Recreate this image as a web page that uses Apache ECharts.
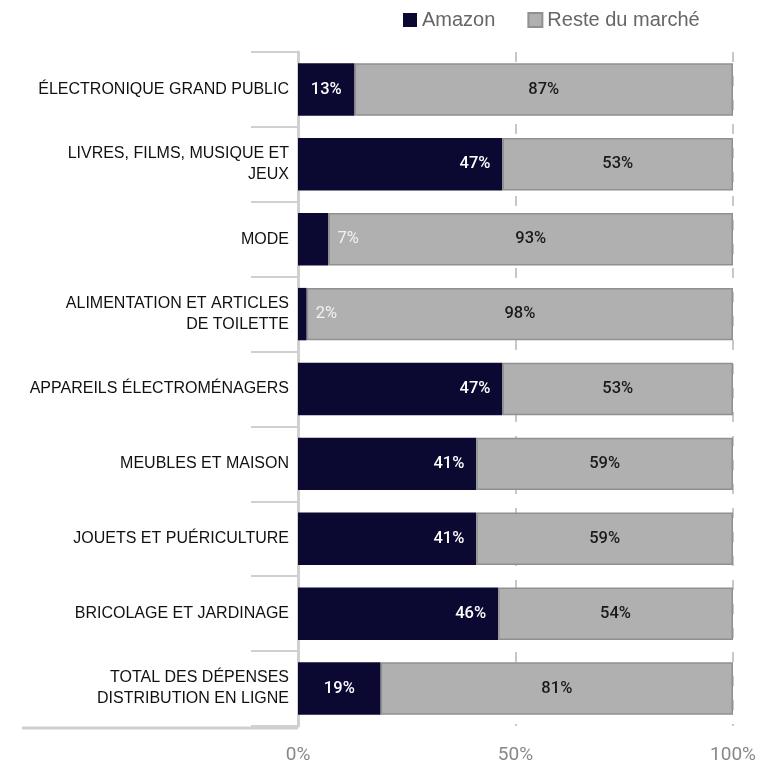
<!DOCTYPE html>
<html>
<head>
<meta charset="utf-8">
<script src="https://cdn.jsdelivr.net/npm/echarts@6/dist/echarts.min.js"></script>
<style>
  html, body { margin: 0; padding: 0; background: #fff; }
  #chart { width: 784px; height: 765px; }
</style>
</head>
<body>
<div id="chart"></div>
<script>
// catégories (de haut en bas)
var categories = [
  'ÉLECTRONIQUE GRAND PUBLIC',
  'LIVRES, FILMS, MUSIQUE ET\nJEUX',
  'MODE',
  'ALIMENTATION ET ARTICLES\nDE TOILETTE',
  'APPAREILS ÉLECTROMÉNAGERS',
  'MEUBLES ET MAISON',
  'JOUETS ET PUÉRICULTURE',
  'BRICOLAGE ET JARDINAGE',
  'TOTAL DES DÉPENSES\nDISTRIBUTION EN LIGNE'
];
var amazon = [13, 47, 7, 2, 47, 41, 41, 46, 19];
var reste = [87, 53, 93, 98, 53, 59, 59, 54, 81];
var xTicks = [0, 50, 100];

var navy = '#0b0932';
var gris = '#b0b0b0';

var chart = echarts.init(document.getElementById('chart'));

// petites valeurs : étiquette à droite de la barre, sur le gris
var amazonData = amazon.map(function (v) {
  if (v < 10) {
    return { value: v, label: { position: 'right', distance: 9, color: '#f2f2f2', fontWeight: 400 } };
  }
  if (v < 20) {
    return { value: v, label: { position: 'inside' } };
  }
  return v;
});

var labelFont = {
  fontFamily: 'Roboto',
  fontWeight: 500,
  fontSize: 16.5
};

chart.setOption({
  animation: false,
  legend: {
    top: 5,
    left: 398,
    itemWidth: 14,
    itemHeight: 14,
    itemGap: 32,
    icon: 'rect',
    textStyle: { fontFamily: 'Liberation Sans', fontSize: 20, color: '#666' },
    data: ['Amazon', 'Reste du marché']
  },
  grid: { left: 298, right: 51, top: 52, bottom: 38 },
  xAxis: {
    type: 'value',
    min: 0,
    max: 100,
    interval: 50,
    axisLine: { show: false },
    axisTick: { show: false },
    splitLine: {
      show: true,
      lineStyle: { color: '#c8c8c8', width: 2, type: [10, 14] }
    },
    axisLabel: {
      margin: 20,
      fontFamily: 'Roboto',
      fontSize: 19,
      color: '#888',
      formatter: function (v) {
        return xTicks.indexOf(v) >= 0 ? v + '%' : '';
      }
    }
  },
  yAxis: {
    type: 'category',
    inverse: true,
    data: categories,
    axisLine: { show: true, lineStyle: { color: '#d0d0d0', width: 3 } },
    axisTick: {
      show: true,
      length: 47,
      lineStyle: { color: '#d0d0d0', width: 2 }
    },
    axisLabel: {
      margin: 9,
      fontFamily: 'Liberation Sans',
      fontSize: 16,
      color: '#111',
      lineHeight: 21,
      align: 'right'
    }
  },
  series: [
    {
      name: 'Amazon',
      type: 'bar',
      stack: 'total',
      barWidth: '70%',
      itemStyle: { color: navy },
      label: Object.assign({
        show: true,
        position: 'insideRight',
        distance: 12,
        color: '#fff',
        formatter: '{c}%'
      }, labelFont),
      data: amazonData
    },
    {
      name: 'Reste du marché',
      type: 'bar',
      stack: 'total',
      barWidth: '70%',
      itemStyle: { color: gris, borderColor: '#909090', borderWidth: 1.5 },
      label: Object.assign({
        show: true,
        position: 'inside',
        color: '#1a1a1a',
        formatter: '{c}%'
      }, labelFont),
      data: reste
    }
  ]
});

// ligne de base prolongée sous les catégories
var gridRect = chart.getModel().getComponent('grid', 0).coordinateSystem.getRect();
chart.setOption({
  graphic: [{
    type: 'line',
    shape: { x1: 22, y1: gridRect.y + gridRect.height + 2, x2: gridRect.x, y2: gridRect.y + gridRect.height + 2 },
    style: { stroke: '#d0d0d0', lineWidth: 3 },
    z: 10
  }]
});
</script>
</body>
</html>
